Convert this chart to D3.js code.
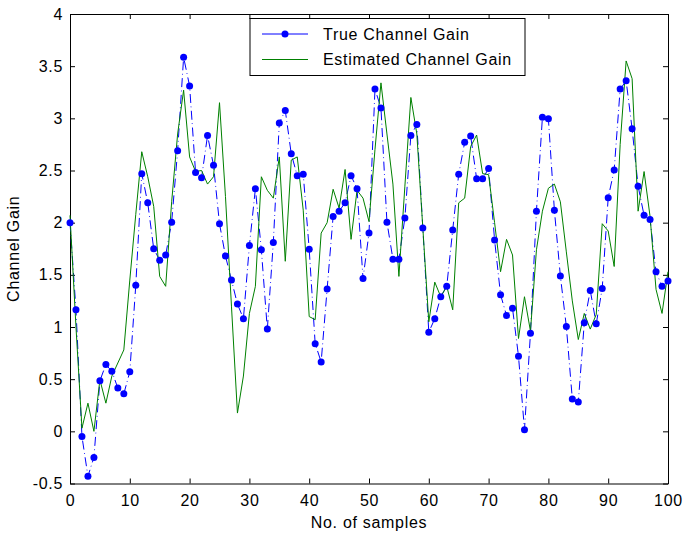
<!DOCTYPE html>
<html>
<head>
<meta charset="utf-8">
<script src="https://cdn.jsdelivr.net/npm/d3@7"></script>
<style>
  html, body { margin: 0; padding: 0; background: #fff; }
  svg { display: block; font-family: "Liberation Sans", Arial, sans-serif; }
</style>
</head>
<body>
<div id="chart"></div>
<script>
// sample values, index = sample number
const trueGain = [
  2.00, 1.165, -0.05, -0.43, -0.25, 0.485, 0.64, 0.575, 0.415, 0.36,
  0.57, 1.40, 2.47, 2.19, 1.75, 1.64, 1.69, 2.005, 2.69, 3.585,
  3.31, 2.48, 2.43, 2.835, 2.55, 1.99, 1.68, 1.45, 1.22, 1.08,
  1.78, 2.325, 1.74, 0.98, 1.81, 2.955, 3.075, 2.66, 2.45, 2.465,
  1.745, 0.84, 0.665, 1.365, 2.06, 2.11, 2.19, 2.45, 2.325, 1.465,
  1.90, 3.28, 3.10, 2.005, 1.65, 1.65, 2.045, 2.835, 2.94, 1.95,
  0.95, 1.08, 1.29, 1.39, 1.93, 2.465, 2.77, 2.83, 2.42, 2.42,
  2.52, 1.835, 1.31, 1.11, 1.18, 0.72, 0.016, 0.94, 2.11, 3.01,
  2.995, 2.12, 1.49, 1.005, 0.31, 0.28, 1.04, 1.35, 1.03, 1.37,
  2.24, 2.505, 3.28, 3.36, 2.90, 2.35, 2.07, 2.03, 1.53, 1.39,
  1.44
];
const estGain = [
  2.07, 1.0, 0.03, 0.27, 0.0, 0.495, 0.27, 0.53, 0.655, 0.78,
  1.45, 2.08, 2.68, 2.44, 2.155, 1.485, 1.39, 2.2, 2.85, 3.27,
  2.63, 2.49, 2.50, 2.37, 2.44, 3.15, 2.25, 1.2, 0.175, 0.53,
  1.13, 1.39, 2.44, 2.31, 2.235, 2.63, 1.63, 2.60, 2.63, 2.12,
  1.10, 1.07, 1.90, 2.0, 2.32, 2.14, 2.51, 1.84, 2.31, 2.235,
  2.01, 2.70, 3.34, 2.85, 2.37, 1.485, 2.35, 3.20, 2.85, 1.95,
  1.05, 1.43, 1.29, 1.39, 1.165, 2.19, 2.235, 2.73, 2.84, 2.47,
  2.46, 2.0, 1.53, 1.84, 1.69, 0.89, 1.29, 0.96, 1.74, 2.11,
  2.33, 2.37, 2.2, 1.72, 1.25, 0.88, 1.13, 0.98, 1.12, 1.99,
  1.92, 1.58, 2.75, 3.55, 3.38, 2.11, 2.49, 2.06, 1.36, 1.13,
  1.53
];
const xTicks = [0, 10, 20, 30, 40, 50, 60, 70, 80, 90, 100];
const yTicks = [-0.5, 0, 0.5, 1, 1.5, 2, 2.5, 3, 3.5, 4];
const yTickLabels = ["-0.5", "0", "0.5", "1", "1.5", "2", "2.5", "3", "3.5", "4"];
const seriesNames = ["True Channel Gain", "Estimated Channel Gain"];

const width = 684;
const height = 533;
const marginTop = 14;
const marginRight = 16;
const marginBottom = 49.5;
const marginLeft = 70;
const tickLen = 5;
const fontSize = 16;
const spacing = 0.7;

const x = d3.scaleLinear().domain([0, 100]).range([marginLeft, width - marginRight]);
const y = d3.scaleLinear().domain([-0.5, 4]).range([height - marginBottom, marginTop]);

const svg = d3.select("#chart")
  .append("svg")
  .attr("width", width)
  .attr("height", height)
  .attr("viewBox", [0, 0, width, height]);

// axes (MATLAB style: ticks inside, box on)
const axisBottomG = svg.append("g")
  .attr("transform", `translate(0,${y(-0.5)})`)
  .call(d3.axisBottom(x).tickValues(xTicks).tickSizeInner(-tickLen).tickSizeOuter(0).tickPadding(11));
const axisTopG = svg.append("g")
  .attr("transform", `translate(0,${y(4)})`)
  .call(d3.axisTop(x).tickValues(xTicks).tickSizeInner(-tickLen).tickSizeOuter(0).tickFormat(""));
const axisLeftG = svg.append("g")
  .attr("transform", `translate(${x(0)},0)`)
  .call(d3.axisLeft(y).tickValues(yTicks).tickSizeInner(-tickLen).tickSizeOuter(0).tickPadding(7)
    .tickFormat((d, i) => yTickLabels[i]));
const axisRightG = svg.append("g")
  .attr("transform", `translate(${x(100)},0)`)
  .call(d3.axisRight(y).tickValues(yTicks).tickSizeInner(-tickLen).tickSizeOuter(0).tickFormat(""));

[axisBottomG, axisTopG, axisLeftG, axisRightG].forEach((g) => {
  g.selectAll(".domain").attr("stroke", "#000");
  g.selectAll(".tick line").attr("stroke", "#000");
  g.selectAll("text")
    .attr("fill", "#000")
    .attr("font-size", fontSize)
    .attr("letter-spacing", spacing)
    .attr("font-family", "Liberation Sans, Arial, sans-serif");
});

// axis titles
svg.append("text")
  .attr("x", x(50))
  .attr("y", 528)
  .attr("text-anchor", "middle")
  .attr("font-size", fontSize)
  .attr("letter-spacing", spacing)
  .text("No. of samples");
svg.append("text")
  .attr("transform", `translate(19,${(y(4) + y(-0.5)) / 2}) rotate(-90)`)
  .attr("text-anchor", "middle")
  .attr("font-size", fontSize)
  .attr("letter-spacing", spacing)
  .text("Channel Gain");

const plot = svg.append("g");

const line = d3.line()
  .x((d, i) => x(i))
  .y((d) => y(d));

plot.append("path")
  .datum(trueGain)
  .attr("fill", "none")
  .attr("stroke", "#0000ff")
  .attr("stroke-width", 1)
  .attr("stroke-dasharray", "9,3.5,0.8,3.5")
  .attr("d", line);

plot.append("path")
  .datum(estGain)
  .attr("fill", "none")
  .attr("stroke", "#008000")
  .attr("stroke-width", 1)
  .attr("d", line);

plot.append("g")
  .selectAll("circle")
  .data(trueGain)
  .join("circle")
  .attr("cx", (d, i) => x(i))
  .attr("cy", (d) => y(d))
  .attr("r", 3.5)
  .attr("fill", "#0000ff");

// legend
const legend = svg.append("g").attr("transform", "translate(250,18.5)");
legend.append("rect")
  .attr("width", 275)
  .attr("height", 57)
  .attr("fill", "#fff")
  .attr("stroke", "#000");
const rows = legend.selectAll(".row")
  .data(seriesNames)
  .join("g")
  .attr("class", "row")
  .attr("transform", (d, i) => `translate(0,${15.5 + i * 25.5})`);
rows.append("line")
  .attr("x1", 12)
  .attr("x2", 58)
  .attr("stroke", (d, i) => (i === 0 ? "#0000ff" : "#008000"));
rows.filter((d, i) => i === 0)
  .append("circle")
  .attr("cx", 35)
  .attr("r", 3.5)
  .attr("fill", "#0000ff");
rows.append("text")
  .attr("x", 73)
  .attr("dy", "0.35em")
  .attr("font-size", fontSize)
  .attr("letter-spacing", spacing)
  .text((d) => d);
</script>
</body>
</html>
